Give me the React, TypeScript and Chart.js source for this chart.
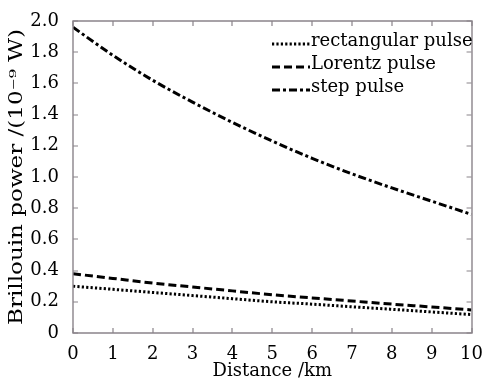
import React, { useEffect, useRef } from "react";
import { Chart, registerables } from "chart.js";
Chart.register(...registerables);

const distances = [0, 1, 2, 3, 4, 5, 6, 7, 8, 9, 10];
const rectangular = [0.3, 0.28, 0.26, 0.24, 0.22, 0.2, 0.185, 0.168, 0.152, 0.135, 0.118];
const lorentz = [0.38, 0.35, 0.32, 0.295, 0.27, 0.245, 0.225, 0.205, 0.185, 0.167, 0.148];
const step = [1.96, 1.78, 1.62, 1.48, 1.35, 1.23, 1.12, 1.02, 0.93, 0.845, 0.76];
const seriesNames = ["rectangular pulse", "Lorentz pulse", "step pulse"];
const yTitle = "Brillouin power /(10⁻⁹ W)";
const xTitle = "Distance /km";
const dashes = [[2.2, 2.2], [8, 4], [8, 3, 3, 3]];

const FONT = "'DejaVu Serif', 'Liberation Serif', serif";

const frame = {
  id: "frame",
  afterDraw(chart: any) {
    const { ctx, chartArea: a, scales } = chart;
    ctx.save();
    ctx.setLineDash([]);
    ctx.globalAlpha = 1;
    ctx.strokeStyle = "#8a848a";
    ctx.lineWidth = 1.4;
    ctx.beginPath();
    ctx.rect(Math.round(a.left), Math.round(a.top), Math.round(a.right - a.left), Math.round(a.bottom - a.top));
    ctx.stroke();
    const L = 5;
    ctx.lineWidth = 1.2;
    ctx.beginPath();
    scales.x.ticks.forEach((t: any) => {
      const px = Math.round(scales.x.getPixelForValue(t.value));
      ctx.moveTo(px, a.bottom);
      ctx.lineTo(px, a.bottom - L);
      ctx.moveTo(px, a.top);
      ctx.lineTo(px, a.top + L);
    });
    scales.y.ticks.forEach((t: any) => {
      const py = Math.round(scales.y.getPixelForValue(t.value));
      ctx.moveTo(a.left, py);
      ctx.lineTo(a.left + L, py);
      ctx.moveTo(a.right, py);
      ctx.lineTo(a.right - L, py);
    });
    ctx.stroke();
    // legend
    ctx.font = "18px " + FONT;
    ctx.fillStyle = "#000";
    ctx.textBaseline = "middle";
    ctx.textAlign = "left";
    seriesNames.forEach((name, i) => {
      const y = 41 + i * 23;
      ctx.beginPath();
      ctx.setLineDash(dashes[i]);
      ctx.lineWidth = 3;
      ctx.strokeStyle = "#000";
      ctx.moveTo(272, y + 3);
      ctx.lineTo(310, y + 3);
      ctx.stroke();
      ctx.setLineDash([]);
      ctx.fillText(name, 311, y);
    });
    // y title (stretched along its length like the reference)
    ctx.save();
    ctx.translate(17, 177);
    ctx.rotate(-Math.PI / 2);
    ctx.scale(1.28, 1);
    ctx.textAlign = "center";
    ctx.font = "18px " + FONT;
    ctx.fillText(yTitle, 0, 0);
    ctx.restore();
    ctx.restore();
  },
};

export default function App() {
  const ref = useRef<HTMLCanvasElement>(null);
  useEffect(() => {
    const mk = (vals: number[], i: number) => ({
      label: seriesNames[i],
      data: distances.map((d, k) => ({ x: d, y: vals[k] })),
      borderColor: "#000",
      borderWidth: 3,
      borderDash: dashes[i],
      pointRadius: 0,
      fill: false,
      cubicInterpolationMode: "monotone" as const,
    });
    const chart = new Chart(ref.current!, {
      type: "line",
      data: { datasets: [mk(rectangular, 0), mk(lorentz, 1), mk(step, 2)] },
      options: {
        animation: false,
        responsive: false,
        layout: { padding: { left: 0, top: 21, right: 11, bottom: 0 } },
        plugins: { legend: { display: false }, tooltip: { enabled: false } },
        scales: {
          x: {
            type: "linear",
            min: 0,
            max: 10,
            ticks: { stepSize: 1, color: "#000", font: { family: FONT, size: 18 }, padding: 3 },
            grid: { display: false },
            border: { display: false },
            title: { display: true, text: xTitle, color: "#000", font: { family: FONT, size: 18 }, padding: { top: 0, bottom: 0 } },
            afterFit: (s: any) => { s.height = 49; },
          },
          y: {
            min: 0,
            max: 2,
            ticks: {
              stepSize: 0.2,
              color: "#000",
              font: { family: FONT, size: 18 },
              padding: 6,
              callback: (v: any) => (v === 0 ? "0" : Number(v).toFixed(1)),
            },
            grid: { display: false },
            border: { display: false },
            afterFit: (s: any) => { s.width = 73; },
          },
        },
      },
      plugins: [frame],
    });
    return () => chart.destroy();
  }, []);
  return (
    <div style={{ position: "fixed", left: 0, top: 0, width: 486, height: 382, background: "#fff" }}>
      <canvas ref={ref} width={486} height={382} style={{ width: 486, height: 382 }} />
    </div>
  );
}
